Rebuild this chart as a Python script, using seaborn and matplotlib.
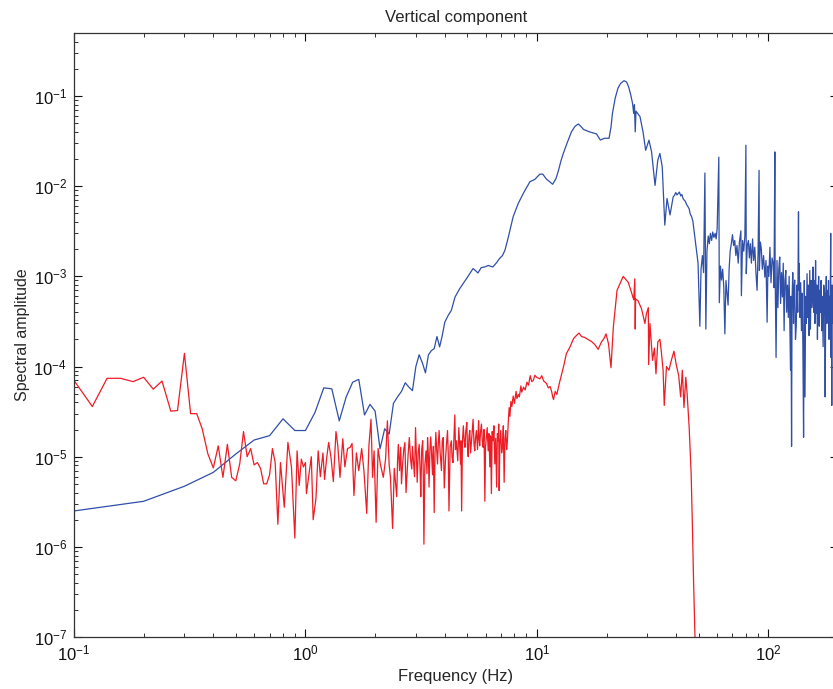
import numpy as np
import pandas as pd
import seaborn as sns
import matplotlib
matplotlib.use("Agg")
import matplotlib.pyplot as plt
from matplotlib.ticker import LogLocator

# espectro azul (frequencia em Hz, amplitude)
blue_freq = [0.1, 0.2, 0.3, 0.4, 0.5, 0.6, 0.7, 0.8, 0.9, 1.0,
             1.1, 1.2, 1.3, 1.4, 1.5, 1.6, 1.7, 1.8, 1.9, 2.0,
             2.1, 2.2, 2.3, 2.4, 2.5, 2.6, 2.7, 2.8, 2.9, 3.0,
             3.1, 3.2, 3.3, 3.4, 3.5, 3.6, 3.7, 3.8, 3.9, 4.0,
             4.14, 4.27, 4.43, 4.64, 4.96, 5.1, 5.3, 5.45, 5.56, 5.75,
             5.95, 6.17, 6.45, 6.7, 6.9, 7.1, 7.28, 7.52, 7.9, 8.3,
             8.73, 9.33, 9.8, 10.3, 10.6, 11.0, 11.7, 12.1, 12.4, 12.7,
             13.0, 13.5, 14.1, 14.6, 15.1, 15.5, 15.9, 16.9, 18.1, 18.8,
             19.6, 20.5, 20.9, 21.2, 21.8, 22.4, 23.0, 23.8, 24.4, 24.9,
             25.4, 25.9, 26.2, 26.4, 26.6, 26.8, 27.9, 28.8, 29.5, 30.5,
             31.3, 32.4, 33.3, 34.0, 34.8, 35.7, 36.5, 37.6, 38.8, 39.3,
             39.8, 40.3, 40.8, 41.3, 41.8, 42.3, 42.8, 43.3, 43.8, 44.3,
             45.0, 45.5, 46.0, 46.6, 47.2, 48.1, 49.0, 49.7,
             50.6, 51.2, 51.9, 52.5, 53.2, 53.7, 54.3, 55.0, 55.6, 56.2,
             56.9, 57.5, 58.2, 58.9, 59.5, 60.1, 61.1, 61.4, 62.1, 62.8,
             63.5, 64.2, 64.9, 65.6, 66.3, 67.0, 67.7, 68.4, 69.2, 70.0,
             70.8, 71.6, 72.4, 73.2, 74.1, 75.0, 76.1, 76.5, 77.4, 78.3,
             79.2, 80.0, 80.3, 81.1, 82.0, 82.8, 83.6, 84.5, 85.5, 86.4,
             87.4, 88.4, 89.4, 90.3, 91.2, 91.5, 92.4, 93.3, 94.2, 95.4,
             96.6, 97.7, 98.8, 99.6, 100.5, 101.6, 102.7, 103.8, 105.0, 105.8,
             106.7, 107.0, 108.0, 109.0, 110.0, 111.0, 112.0, 113.0, 114.0, 115.0,
             116.0, 117.0, 118.0, 119.0, 120.0, 121.0, 122.0, 123.0, 124.7, 125.3,
             126.0, 126.6, 127.5, 128.5, 129.2, 130.0, 131.0, 132.0, 133.0, 134.0,
             135.0, 135.5, 136.0, 137.0, 138.0, 139.0, 140.0, 141.0, 142.0, 143.0,
             144.0, 145.0, 146.0, 147.0, 148.0, 149.0, 150.0, 151.0, 152.0, 153.0,
             154.0, 155.0, 156.0, 157.0, 158.0, 159.0, 160.0, 161.0, 162.0, 163.0,
             164.0, 165.0, 166.0, 167.0, 168.0, 169.0, 170.0, 171.0, 172.5, 173.5,
             175.0, 176.0, 177.0, 178.0, 179.0, 180.0, 181.0, 182.0, 183.0, 184.0,
             185.0, 186.0, 186.5, 187.5, 188.0, 188.5, 189.5, 190.5, 193.0, 195.0,
             197.0, 199.0, 200.0]
blue_amp = [2.5e-6, 3.2e-6, 4.7e-6, 6.7e-6, 1.07e-5, 1.53e-5, 1.71e-5, 2.63e-5, 1.95e-5, 1.95e-5,
            3.1e-5, 5.8e-5, 5.65e-5, 2.5e-5, 4.6e-5, 6.7e-5, 7.2e-5, 2.9e-5, 3.8e-5, 3.2e-5,
            1.22e-5, 2.04e-5, 1.78e-5, 3.9e-5, 4.6e-5, 5.3e-5, 6.6e-5, 5.9e-5, 5.4e-5, 1.0e-4,
            1.35e-4, 1.1e-4, 8.5e-5, 1.35e-4, 1.5e-4, 1.58e-4, 2.15e-4, 1.65e-4, 2.2e-4, 3.1e-4,
            3.7e-4, 4.2e-4, 5.9e-4, 7.3e-4, 9.4e-4, 1.05e-3, 1.22e-3, 1.15e-3, 1.09e-3, 1.25e-3,
            1.27e-3, 1.32e-3, 1.27e-3, 1.42e-3, 1.58e-3, 1.7e-3, 1.95e-3, 2.7e-3, 4.6e-3, 6.4e-3,
            8.3e-3, 1.12e-2, 1.19e-2, 1.36e-2, 1.36e-2, 1.2e-2, 1.05e-2, 1.22e-2, 1.5e-2, 1.9e-2,
            2.3e-2, 3.0e-2, 4.0e-2, 4.6e-2, 4.9e-2, 4.6e-2, 4.26e-2, 4.0e-2, 3.8e-2, 3.25e-2,
            3.4e-2, 3.4e-2, 4.5e-2, 6.4e-2, 9.5e-2, 0.122, 0.138, 0.148, 0.143, 0.127,
            0.105, 0.083, 0.064, 0.08, 0.04, 0.068, 0.059, 0.039, 0.025, 0.0324,
            0.024, 0.0102, 0.0195, 0.0231, 0.0164, 3.7e-3, 7.3e-3, 4.8e-3, 7.6e-3, 7.9e-3,
            8.5e-3, 8.0e-3, 8.3e-3, 8.6e-3, 7.8e-3, 8.1e-3, 7.3e-3, 7.0e-3, 6.8e-3, 6.3e-3,
            5.9e-3, 5.6e-3, 4.9e-3, 4.6e-3, 4.1e-3, 2.75e-3, 1.9e-3, 1.4e-3,
            2.8e-4, 1.2e-3, 1.7e-3, 1.1e-3, 1.4e-2, 2.6e-4, 1.9e-3, 2.8e-3, 2.3e-3, 3.0e-3,
            2.5e-3, 3.1e-3, 2.7e-3, 3.0e-3, 2.6e-3, 3.4e-3, 2.1e-2, 5.1e-4, 1.3e-3, 9.1e-4,
            1.2e-3, 7.6e-4, 2.3e-4, 9.0e-4, 6.5e-4, 4.8e-4, 1.2e-3, 1.9e-3, 2.3e-3, 2.9e-3,
            2.2e-3, 2.5e-3, 1.7e-3, 2.2e-3, 1.4e-3, 2.4e-3, 3.2e-3, 6.1e-4, 2.5e-3, 1.9e-3,
            2.8e-3, 2.85e-2, 1.07e-3, 2.2e-3, 2.5e-3, 1.6e-3, 2.3e-3, 1.4e-3, 2.6e-3, 1.5e-3,
            2.1e-3, 1.1e-3, 7.0e-4, 1.8e-3, 1.5e-2, 1.16e-3, 2.4e-3, 2.0e-3, 1.2e-3, 1.7e-3,
            9.8e-4, 1.5e-3, 3.1e-4, 1.3e-3, 1.0e-3, 2.1e-3, 8.5e-4, 1.6e-3, 1.38e-3, 7.5e-4,
            2.4e-2, 1.16e-3, 1.26e-4, 1.5e-3, 4.5e-4, 1.2e-3, 1.64e-3, 5.0e-4, 1.1e-3, 5.9e-4,
            1.4e-3, 2.5e-4, 9.0e-4, 1.16e-3, 4.0e-4, 8.0e-4, 3.5e-4, 1.0e-3, 9.1e-5, 6.0e-4,
            1.3e-5, 5.5e-4, 1.1e-3, 3.0e-4, 7.5e-4, 9.1e-4, 2.0e-4, 2.75e-4, 8.0e-4, 4.0e-4,
            5.2e-3, 7.0e-4, 1.38e-3, 3.5e-4, 8.5e-4, 2.5e-4, 6.5e-4, 1.78e-4, 1.64e-5, 9.0e-4,
            4.6e-5, 6.0e-4, 3.0e-4, 1.07e-3, 3.5e-4, 8.0e-4, 2.2e-4, 1.16e-3, 2.6e-4, 9.0e-4,
            4.5e-4, 6.0e-4, 1.27e-3, 4.0e-4, 9.0e-4, 3.0e-4, 1.5e-3, 3.9e-4, 8.0e-4, 2.0e-4,
            6.0e-4, 1.0e-3, 2.8e-4, 7.0e-4, 4.0e-4, 9.0e-4, 2.5e-4, 6.0e-4, 1.66e-4, 8.0e-4,
            6.5e-4, 4.6e-5, 5.0e-4, 1.0e-3, 3.0e-4, 7.0e-4, 3.5e-4, 9.0e-4, 2.0e-4, 6.0e-4,
            4.0e-4, 3.0e-3, 1.26e-4, 5.0e-4, 3.7e-5, 8.0e-4, 3.0e-4, 6.0e-4, 2.2e-3, 5.0e-4,
            1.0e-3, 3.0e-4, 6.0e-4]

# espectro vermelho
red_freq = [0.10, 0.12, 0.139, 0.159, 0.18, 0.20, 0.22, 0.24, 0.262, 0.28,
            0.30, 0.319, 0.339, 0.358, 0.379, 0.40, 0.42, 0.44, 0.46, 0.48,
            0.50, 0.52, 0.54, 0.56, 0.58, 0.60, 0.62, 0.64, 0.66, 0.68,
            0.70, 0.72, 0.74, 0.76, 0.78, 0.81, 0.84, 0.87, 0.90, 0.92,
            0.94, 0.96, 0.98, 1.00, 1.01, 1.06, 1.08, 1.11, 1.135, 1.16,
            1.19, 1.21, 1.235, 1.26, 1.29, 1.32, 1.355, 1.38, 1.41, 1.45,
            1.48, 1.52, 1.56, 1.59, 1.62, 1.66, 1.70, 1.75, 1.79, 1.84,
            1.88, 1.92, 1.95, 1.98, 2.02, 2.06, 2.11, 2.17, 2.22, 2.26,
            2.30, 2.33, 2.38, 2.42,
            2.48, 2.50, 2.52, 2.55, 2.58, 2.60, 2.63, 2.66, 2.69, 2.72,
            2.75, 2.78, 2.81, 2.85, 2.88, 2.90, 2.92, 2.96, 2.99, 3.02,
            3.04, 3.07, 3.10, 3.13, 3.15, 3.18, 3.21, 3.23, 3.25, 3.28,
            3.32, 3.35, 3.37, 3.40, 3.42, 3.45, 3.48, 3.51, 3.54, 3.57,
            3.60, 3.63, 3.66, 3.69, 3.72, 3.75, 3.78, 3.82, 3.87, 3.90,
            3.94, 3.98, 4.03, 4.07, 4.11, 4.14, 4.17, 4.22, 4.27, 4.30,
            4.34, 4.38, 4.42, 4.45, 4.49, 4.55, 4.60, 4.64, 4.68, 4.70,
            4.73, 4.77, 4.81, 4.85, 4.89, 4.93, 4.98, 5.01, 5.05, 5.09,
            5.13, 5.17, 5.22, 5.26, 5.30, 5.35, 5.39, 5.43, 5.48, 5.54,
            5.60, 5.63, 5.66, 5.71, 5.76, 5.81, 5.86, 5.91, 5.96, 6.00,
            6.05, 6.10, 6.16, 6.21, 6.26, 6.31, 6.36, 6.41, 6.47, 6.52,
            6.58, 6.64, 6.70, 6.75, 6.81, 6.84, 6.87, 6.92, 6.98, 7.04,
            7.10, 7.16, 7.22, 7.28, 7.34, 7.40, 7.46, 7.52, 7.59, 7.65,
            7.72, 7.80, 7.90, 8.00, 8.13, 8.20, 8.32, 8.40, 8.53, 8.60,
            8.76, 8.90, 9.06, 9.20, 9.36, 9.50, 9.65, 9.80, 9.97, 10.3,
            10.5, 10.7, 11.0, 11.2, 11.4, 11.6, 11.7, 11.8, 12.0, 12.2,
            12.5, 12.8, 13.1, 13.4, 13.9, 14.4, 14.8, 15.2, 15.6, 16.1,
            16.6, 17.2, 17.8, 18.4, 19.0, 19.5, 19.9, 20.4, 20.9, 21.4,
            22.2, 23.6, 24.8, 25.6, 26.2, 26.5, 26.6, 26.7, 27.3, 28.3,
            29.3, 29.7, 30.3, 30.4, 30.8, 31.6, 32.2, 32.7, 33.3, 34.0,
            34.5, 35.1, 35.5, 36.3, 37.2, 38.1, 39.1, 40.0, 41.0, 41.8,
            42.5, 43.2, 44.0, 44.6, 45.5, 46.4, 47.0, 47.5, 48.2, 48.5]
red_amp = [7.0e-5, 3.6e-5, 7.4e-5, 7.4e-5, 6.8e-5, 7.6e-5, 5.6e-5, 6.9e-5, 3.2e-5, 3.25e-5,
           1.4e-4, 3.0e-5, 3.0e-5, 2.04e-5, 1.07e-5, 7.5e-6, 1.32e-5, 5.9e-6, 1.37e-5, 5.9e-6,
           5.4e-6, 8.3e-6, 1.9e-5, 1.0e-5, 1.23e-5, 8.1e-6, 8.6e-6, 7.4e-6, 5.0e-6, 5.0e-6,
           6.3e-6, 1.23e-5, 8.6e-6, 1.78e-6, 8.6e-6, 2.75e-6, 1.44e-5, 7.7e-6, 1.25e-6, 1.16e-5,
           4.8e-6, 9.4e-6, 7.7e-6, 8.6e-6, 3.9e-6, 1.0e-5, 2.0e-6, 3.4e-6, 1.16e-5, 6.0e-6,
           1.1e-5, 5.6e-6, 9.7e-6, 1.44e-5, 9.7e-6, 5.3e-6, 1.9e-5, 1.32e-5, 5.9e-6, 1.58e-5,
           7.7e-6, 1.23e-5, 1.27e-5, 1.4e-5, 3.7e-6, 1.1e-5, 7.0e-6, 1.23e-5, 6.9e-6, 2.35e-6,
           1.32e-5, 2.6e-5, 5.9e-6, 1.16e-5, 1.87e-6, 1.23e-5, 8.1e-6, 5.9e-6, 9.5e-6, 2.5e-5,
           8.1e-6, 5.9e-6, 1.6e-6, 7.4e-6,
           3.6e-6, 9.0e-6, 1.37e-5, 7.0e-6, 1.27e-5, 5.0e-6, 8.3e-6, 1.2e-5, 1.44e-5, 4.0e-6,
           6.6e-6, 1.1e-5, 1.63e-5, 9.0e-6, 7.3e-6, 1.3e-5, 1.0e-5, 6.0e-6, 2.1e-5, 9.0e-6,
           5.2e-6, 1.1e-5, 1.37e-5, 7.0e-6, 3.6e-6, 1.2e-5, 1.5e-5, 6.0e-6, 1.07e-6, 8.0e-6,
           1.16e-5, 6.5e-6, 1.63e-5, 1.0e-5, 4.6e-6, 1.2e-5, 1.66e-5, 1.0e-5, 6.3e-6, 1.3e-5,
           2.4e-6, 1.1e-5, 1.86e-5, 1.2e-5, 8.3e-6, 1.4e-5, 1.95e-5, 1.1e-5, 7.0e-6, 1.5e-5,
           1.63e-5, 4.5e-6, 9.5e-6, 1.4e-5, 1.95e-5, 1.1e-5, 2.5e-6, 1.3e-5, 1.5e-5, 1.0e-5,
           8.6e-6, 1.6e-5, 2.9e-5, 1.2e-5, 1.5e-5, 9.0e-6, 2.1e-5, 1.3e-5, 8.3e-6, 1.5e-5,
           2.5e-6, 1.5e-5, 2.2e-5, 1.5e-5, 1.27e-5, 1.9e-5, 2.4e-5, 1.3e-5, 1.0e-5, 1.7e-5,
           1.95e-5, 1.1e-5, 1.5e-5, 2.0e-5, 2.6e-5, 1.4e-5, 1.16e-5, 1.6e-5, 1.95e-5, 1.2e-5,
           2.5e-5, 1.6e-5, 1.32e-5, 1.9e-5, 2.3e-5, 1.5e-5, 1.27e-5, 2.0e-5, 3.2e-6, 1.3e-5,
           1.63e-5, 2.1e-5, 1.16e-5, 1.8e-5, 7.7e-6, 1.7e-5, 3.9e-6, 1.9e-5, 1.5e-5, 2.2e-5,
           8.3e-6, 1.6e-5, 4.6e-6, 1.8e-5, 1.5e-5, 2.3e-5, 4.2e-6, 1.4e-5, 1.95e-5, 1.1e-5,
           1.27e-5, 2.2e-5, 5.2e-6, 1.6e-5, 1.95e-5, 1.2e-5, 1.5e-5, 2.4e-5, 3.5e-5, 2.8e-5,
           4.1e-5, 3.6e-5, 4.7e-5, 3.9e-5, 5.3e-5, 4.4e-5, 4.9e-5, 4.6e-5, 6.1e-5, 5.2e-5,
           5.9e-5, 5.5e-5, 6.7e-5, 6.2e-5, 7.9e-5, 6.8e-5, 7.0e-5, 8.0e-5, 7.6e-5, 7.3e-5,
           7.9e-5, 6.9e-5, 6.5e-5, 5.8e-5, 6.0e-5, 5.2e-5, 4.6e-5, 4.3e-5, 5.3e-5, 4.9e-5,
           6.5e-5, 8.3e-5, 1.05e-4, 1.38e-4, 1.65e-4, 2.04e-4, 2.2e-4, 2.35e-4, 2.15e-4, 2.1e-4,
           2.0e-4, 1.9e-4, 1.75e-4, 1.55e-4, 1.87e-4, 2.05e-4, 2.3e-4, 1.78e-4, 9.7e-5, 2.75e-4,
           7.0e-4, 1.0e-3, 8.6e-4, 6.7e-4, 5.5e-4, 9.4e-4, 2.6e-4, 5.6e-4, 5.4e-4, 4.4e-4,
           3.0e-4, 3.8e-4, 4.5e-4, 1.05e-4, 3.0e-4, 1.17e-4, 1.6e-4, 8.3e-5, 1.87e-4, 2.0e-4,
           1.45e-4, 9.1e-5, 3.7e-5, 1.0e-4, 9.1e-5, 1.17e-4, 1.48e-4, 1.05e-4, 7.9e-5, 4.6e-5,
           9.1e-5, 3.5e-5, 7.6e-5, 4.9e-5, 2.1e-5, 6.5e-6, 1.64e-6, 4.5e-7, 1.0e-7, 4.0e-8]

sns.set_style("ticks")
plt.rcParams["font.family"] = ["Liberation Sans", "DejaVu Sans"]
plt.rcParams["mathtext.fontset"] = "custom"
plt.rcParams["mathtext.rm"] = "Liberation Sans"
plt.rcParams["mathtext.it"] = "Liberation Sans:italic"
plt.rcParams["axes.unicode_minus"] = False

fig = plt.figure(figsize=(8.33, 6.89), dpi=100)
ax = fig.add_axes([74 / 833, 52 / 689, 764 / 833, 604 / 689])
ax.set_xscale("log")
ax.set_yscale("log")

azul = pd.DataFrame({"freq": blue_freq, "amp": blue_amp})
vermelho = pd.DataFrame({"freq": red_freq, "amp": red_amp})

sns.lineplot(data=azul, x="freq", y="amp", color="#2f4fa8", lw=0.9,
             estimator=None, sort=False, ax=ax)
sns.lineplot(data=vermelho, x="freq", y="amp", color="#ee1c25", lw=0.9,
             estimator=None, sort=False, ax=ax)

ax.set_xlim(0.1, 200)
ax.set_ylim(1e-7, 0.5)
ax.yaxis.set_major_locator(LogLocator(base=10, numticks=20))
ax.yaxis.set_minor_locator(LogLocator(base=10, subs=np.arange(2, 10), numticks=20))

ax.tick_params(which="both", direction="in", top=True, right=True,
               labelsize=12, colors="#111111")
ax.tick_params(which="major", length=5.5, width=0.8, pad=5)
ax.tick_params(which="minor", length=2.8, width=0.6)
for s in ax.spines.values():
    s.set_linewidth(0.9)
    s.set_color("#333333")

ax.set_xlabel("Frequency (Hz)", fontsize=12, labelpad=4)
ax.set_ylabel("Spectral amplitude", fontsize=11.5, labelpad=2.5)
ax.set_title("Vertical component", fontsize=12, pad=8)

fig.savefig("out.png", dpi=100)
